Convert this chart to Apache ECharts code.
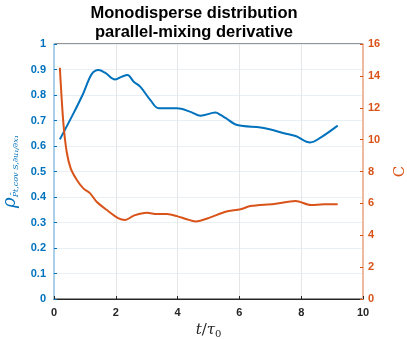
<!DOCTYPE html>
<html>
<head>
<meta charset="utf-8">
<script src="https://cdn.jsdelivr.net/npm/echarts@6/dist/echarts.min.js"></script>
<style>
  html, body { margin: 0; padding: 0; background: #fff; }
  #chart { width: 407px; height: 339px; }
</style>
</head>
<body>
<div id="chart"></div>
<script>
// 相关系数曲线 (左轴)
const rhoT = [0.19, 0.63, 0.95, 1.22, 1.44, 1.66, 1.98, 2.2, 2.38, 2.58, 2.79, 3.12, 3.39, 3.98, 4.42, 4.74, 5.23, 5.39, 5.55, 5.93, 6.69, 7.01, 7.44, 7.82, 8.29, 8.64, 9.18];
const rhoVals = [0.626, 0.728, 0.807, 0.882, 0.898, 0.887, 0.861, 0.872, 0.878, 0.852, 0.833, 0.78, 0.748, 0.748, 0.734, 0.719, 0.731, 0.722, 0.71, 0.682, 0.673, 0.665, 0.65, 0.639, 0.614, 0.634, 0.68];
// C 曲线 (右轴)
const cT = [0.19, 0.30, 0.41, 0.54, 0.74, 0.95, 1.17, 1.38, 1.71, 2.09, 2.3, 2.6, 3.01, 3.33, 3.66, 3.98, 4.3, 4.58, 5.06, 5.55, 6.04, 6.36, 7.12, 7.82, 8.31, 8.74, 9.18];
const cVals = [14.51, 11.12, 9.24, 8.2, 7.47, 6.94, 6.63, 6.1, 5.58, 5.06, 4.96, 5.25, 5.41, 5.33, 5.33, 5.2, 5.0, 4.87, 5.12, 5.48, 5.63, 5.83, 5.96, 6.15, 5.9, 5.94, 5.94];

const BLUE = '#0072BD';
const ORANGE = '#D95319';

const chart = echarts.init(document.getElementById('chart'));

const option = {
  backgroundColor: '#fff',
  animation: false,
  title: {
    text: 'Monodisperse distribution\nparallel-mixing derivative',
    left: 189,
    textAlign: 'center',
    top: -1,
    textStyle: {
      fontFamily: 'Liberation Sans, Arial, sans-serif',
      fontSize: 16.5,
      fontWeight: 'bold',
      color: '#000',
      lineHeight: 19
    }
  },
  grid: {
    left: 54,
    right: 44,
    top: 44,
    bottom: 40,
    outerBoundsMode: 'none',
    containLabel: false,
    show: true,
    borderColor: '#262626',
    borderWidth: 1
  },
  xAxis: {
    type: 'value',
    min: 0,
    max: 10,
    interval: 2,
    name: '{i|t}{n|/}{i|τ}{sub|0}',
    nameLocation: 'middle',
    nameGap: 22,
    nameTextStyle: {
      rich: {
        i: { fontFamily: 'DejaVu Serif, serif', fontStyle: 'italic', fontSize: 15, color: '#262626' },
        n: { fontFamily: 'DejaVu Serif, serif', fontSize: 15, color: '#262626' },
        sub: { fontFamily: 'DejaVu Serif, serif', fontSize: 10, color: '#262626', padding: [8, 0, 0, 0] }
      }
    },
    axisLine: { show: true, lineStyle: { color: '#262626', width: 1 } },
    axisTick: { show: true, inside: true, length: 3, lineStyle: { color: '#262626' } },
    axisLabel: {
      color: '#262626',
      fontFamily: 'Liberation Sans, Arial, sans-serif',
      fontWeight: 'bold',
      fontSize: 11,
      margin: 8
    },
    splitLine: { show: true, lineStyle: { color: '#e6e6e6', width: 1 } }
  },
  yAxis: [
    {
      type: 'value',
      min: 0,
      max: 1,
      interval: 0.1,
      position: 'left',
      name: '{r|ρ}{s|P̄t,cov S,∂u₁/∂x₁}',
      nameLocation: 'middle',
      nameRotate: 90,
      nameGap: 30,
      nameTextStyle: {
        rich: {
          r: { fontFamily: 'DejaVu Serif, serif', fontStyle: 'italic', fontSize: 18, color: BLUE },
          s: { fontFamily: 'DejaVu Serif, serif', fontStyle: 'italic', fontSize: 8, color: BLUE, padding: [10, 0, 0, 0] }
        }
      },
      axisLine: { show: true, lineStyle: { color: '#a9cfea', width: 2 } },
      axisTick: { show: true, inside: true, length: 3, lineStyle: { color: BLUE } },
      axisLabel: {
        color: BLUE,
        fontFamily: 'Liberation Sans, Arial, sans-serif',
        fontWeight: 'bold',
        fontSize: 11,
        margin: 8,
        formatter: v => (Math.round(v * 10) / 10).toString()
      },
      splitLine: { show: true, lineStyle: { color: '#e8f0f6', width: 1 } }
    },
    {
      type: 'value',
      min: 0,
      max: 16,
      interval: 2,
      position: 'right',
      name: 'C',
      nameLocation: 'middle',
      nameRotate: 90,
      nameGap: 30,
      nameTextStyle: {
        fontFamily: 'DejaVu Serif, serif',
        fontSize: 15,
        color: ORANGE
      },
      axisLine: { show: true, lineStyle: { color: '#efb9a1', width: 2 } },
      axisTick: { show: true, inside: true, length: 3, lineStyle: { color: ORANGE } },
      axisLabel: {
        color: ORANGE,
        fontFamily: 'Liberation Sans, Arial, sans-serif',
        fontWeight: 'bold',
        fontSize: 11,
        margin: 5
      },
      splitLine: { show: false }
    }
  ],
  series: [
    {
      name: 'rho',
      type: 'line',
      yAxisIndex: 0,
      smooth: 0.35,
      symbol: 'none',
      lineStyle: { color: BLUE, width: 2 },
      data: rhoT.map((t, i) => [t, rhoVals[i]])
    },
    {
      name: 'C',
      type: 'line',
      yAxisIndex: 1,
      smooth: 0.3,
      symbol: 'none',
      lineStyle: { color: ORANGE, width: 2 },
      data: cT.map((t, i) => [t, cVals[i]])
    }
  ]
};

chart.setOption(option);
</script>
</body>
</html>
